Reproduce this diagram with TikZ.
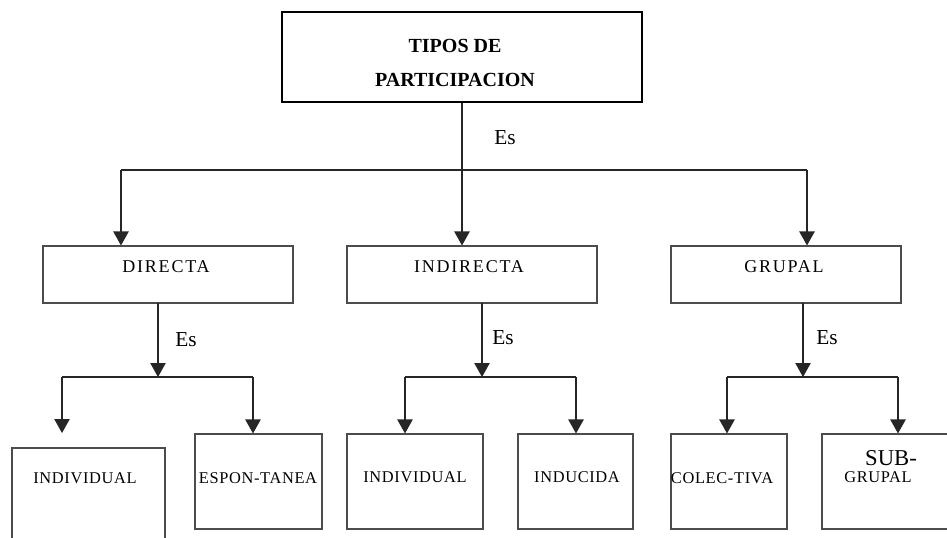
\documentclass[tikz,border=0pt]{standalone}
\usepackage{fontspec}
\setmainfont{Liberation Serif}
\newfontfamily\spacedA[LetterSpace=10]{Liberation Serif}
\newfontfamily\spacedB[LetterSpace=4]{Liberation Serif}
\usetikzlibrary{arrows.meta,fit}
\tikzset{
  bx/.style={draw=black!70, line width=0.8pt, inner sep=0pt, fit={#1}},
  topbx/.style={draw=black, line width=1.1pt, inner sep=0pt, fit={#1}},
  lbltop/.style={font=\fontsize{15}{26}\selectfont\bfseries, align=center, inner sep=0pt},
  lbl2/.style={font=\spacedA\fontsize{13.5}{16}\selectfont, inner sep=0pt},
  lbl3/.style={font=\spacedB\fontsize{12.3}{14}\selectfont, inner sep=0pt},
  eslbl/.style={font=\fontsize{16}{18}\selectfont, inner sep=0pt},
  conn/.style={draw=black!85, line width=0.9pt},
  arr/.style={conn, -{Triangle[width=11.5pt,length=10.5pt]}},
}
\begin{document}
\begin{tikzpicture}[x=0.75pt,y=-0.75pt]
\useasboundingbox (0,0) rectangle (947,537);
\fill[white] (0,0) rectangle (947,537);

% boxes
\node[topbx={(282,12) (642,102)}] (top) {};
\node[bx={(43,246) (293,303)}] (dir) {};
\node[bx={(347,246) (597,303)}] (ind) {};
\node[bx={(671,246) (901,303)}] (gru) {};
\node[bx={(12,448) (165,560)}] (b1) {};
\node[bx={(195,434) (322,529)}] (b2) {};
\node[bx={(347,434) (483,529)}] (b3) {};
\node[bx={(518,434) (633,529)}] (b4) {};
\node[bx={(671,434) (787,529)}] (b5) {};
\node[bx={(822,434) (960,529)}] (b6) {};

% texts
\node[lbltop] (ttop) at (455,63) {TIPOS DE\\PARTICIPACION};
\node[lbl2] (tdir) at (166,267) {DIRECTA};
\node[lbl2] (tind) at (469,267) {INDIRECTA};
\node[lbl2] (tgru) at (784,267) {GRUPAL};
\node[lbl3] (t1) at (85,478) {INDIVIDUAL};
\node[lbl3] (t2) at (258,478) {ESPON-TANEA};
\node[lbl3] (t3) at (415,477) {INDIVIDUAL};
\node[lbl3] (t4) at (577,477) {INDUCIDA};
\node[lbl3] (t5) at (722,478) {COLEC-TIVA};
\node[font=\fontsize{17}{20}\selectfont, inner sep=0pt] (t6a) at (891,458) {SUB-};
\node[lbl3] (t6b) at (878,477) {GRUPAL};

% Es labels
\node[eslbl] (es0) at (505,138) {Es};
\node[eslbl] (es1) at (186,340) {Es};
\node[eslbl] (es2) at (503,338) {Es};
\node[eslbl] (es3) at (827,338) {Es};

% level 1 connectors
\coordinate (j0l) at (121,170);
\coordinate (j0r) at (807,170);
\draw[conn] (j0l) -- (j0r);
\draw[arr] (top.south) -- (top.south |- ind.north);
\draw[arr] (j0l) -- (j0l |- dir.north);
\draw[arr] (j0r) -- (j0r |- gru.north);

% directa
\coordinate (d0) at (158,303);
\coordinate (d1) at (158,377);
\coordinate (dl) at (62,377);
\coordinate (dr) at (253,377);
\draw[arr] (d0) -- (d1);
\draw[conn, line width=1.3pt] (dl) -- (dr);
\draw[arr] (dl) -- (62,433);
\draw[arr] (dr) -- (dr |- b2.north);

% indirecta
\coordinate (i0) at (482,303);
\coordinate (i1) at (482,377);
\coordinate (il) at (405,377);
\coordinate (ir) at (576,377);
\draw[arr] (i0) -- (i1);
\draw[conn, line width=1.3pt] (il) -- (ir);
\draw[arr] (il) -- (il |- b3.north);
\draw[arr] (ir) -- (ir |- b4.north);

% grupal
\coordinate (g0) at (803,303);
\coordinate (g1) at (803,377);
\coordinate (gl) at (727,377);
\coordinate (gr) at (898,377);
\draw[arr] (g0) -- (g1);
\draw[conn, line width=1.3pt] (gl) -- (gr);
\draw[arr] (gl) -- (gl |- b5.north);
\draw[arr] (gr) -- (gr |- b6.north);
\end{tikzpicture}
\end{document}
